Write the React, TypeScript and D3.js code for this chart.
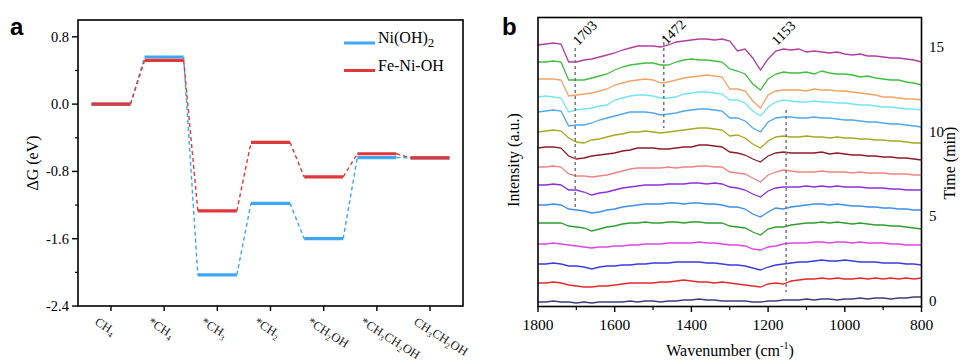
import React from "react";
import * as d3 from "d3";

// ---------- Panel a data ----------
const categories = ["CH4", "*CH4", "*CH3", "*CH2", "*CH2OH", "*CH3CH2OH", "CH3CH2OH"];
const niOH2 = [0, 0.56, -2.03, -1.18, -1.6, -0.635, -0.64];
const feNiOH = [0, 0.52, -1.27, -0.455, -0.865, -0.59, -0.64];
const yTicksA = [0.8, 0.0, -0.8, -1.6, -2.4];
const yMinorA = [0.4, -0.4, -1.2, -2.0];

// ---------- Panel b data ----------
const wavenumbers = d3.range(1800, 799, -20); // sampling grid, 1800 -> 800
const xTicksB = [1800, 1600, 1400, 1200, 1000, 800];
const xMinorB = [1700, 1500, 1300, 1100, 900];
const timeTicks = [0, 5, 10, 15];
const times = [0, 1, 2, 3, 4, 5, 6, 7, 8, 9, 10, 11, 12, 13, 14];
const baselines = [4.5, 23.5, 42.5, 62.5, 83.5, 101.5, 121.5, 139.5, 158.5, 174.5, 194.5, 209.5, 227.5, 244.5, 262.5];
const traceColors = [
  "#3d3d7d", "#e62a2a", "#3a3ae2", "#e044e6", "#2f9f2f", "#3d8fea", "#8c2fe0",
  "#f08482", "#8e1c2a", "#aaa81e", "#4fa8f0", "#6fe6f2", "#f2a264", "#3fbf3f", "#b23ea2",
];
const deviations: number[][] = [
  [0,0,1,0,0,-1,0,-1,0,0, 0,0,1,0,1,1,0,1,1,2, 2,3,2,2,1,1,1,1,0,0, 1,1,2,2,2,3,2,3,3,2, 3,3,4,3,4,4,3,4,4,5, 5],
  [0,0,1,0,-2,-3,-4,-4,-3,-3, -2,-1,0,0,0,0,1,1,2,3, 2,1,1,0,1,0,-1,-2,-3,-4, -1,0,-1,2,3,4,4,5,4,5, 4,4,5,4,5,4,5,4,5,4, 5],
  [0,0,1,0,-2,-2,-3,-5,-3,-2, -2,-1,-1,0,0,1,1,1,2,2, 2,2,1,1,0,-1,-1,-2,-4,-6, -3,-1,0,1,2,2,3,4,3,3, 4,3,2,2,2,1,1,1,0,0, -1],
  [0,0,1,0,-1,-2,-3,-4,-3,-3, -2,-2,-1,-1,0,0,0,1,1,1, 1,2,1,1,0,-1,-1,-2,-5,-6, -3,-2,0,1,1,1,2,2,1,2, 2,1,2,1,1,1,0,0,-1,-1, -1],
  [0,0,0,0,-3,-4,-5,-8,-6,-4, -3,-1,0,0,1,0,0,1,1,0, 1,1,0,0,0,-3,-4,-5,-9,-12, -6,-4,-4,-2,-1,0,0,1,0,1, 0,-1,0,-1,-2,-2,-3,-3,-4,-5, -6],
  [0,0,1,0,-4,-5,-6,-8,-7,-5, -4,-2,-1,0,1,1,1,2,2,1, 2,2,1,1,0,-2,-2,-4,-9,-12, -7,-3,-4,-2,-1,0,1,1,0,1, 0,-1,-1,-2,-2,-3,-3,-4,-4,-5, -5],
  [0,0,1,0,-5,-5,-7,-10,-8,-7, -5,-3,-2,-1,0,0,0,1,1,1, 2,2,1,2,1,-2,-3,-5,-9,-12, -6,-3,-2,-2,-2,-1,-2,-1,-2,-1, -2,-2,-2,-3,-3,-3,-4,-4,-5,-5, -5],
  [0,0,1,0,-7,-9,-9,-10,-9,-8, -6,-4,-2,-1,-1,-1,-1,0,-1,0, 0,1,1,0,0,-5,-6,-7,-11,-15, -8,-5,-3,-4,-5,-5,-5,-4,-5,-5, -5,-6,-5,-6,-6,-6,-7,-7,-7,-8, -8],
  [0,1,1,0,-8,-11,-10,-8,-7,-6, -5,-3,-2,0,0,0,-1,-1,0,1, 1,3,3,2,1,-4,-5,-7,-11,-14, -8,-5,-4,-5,-5,-5,-5,-4,-6,-5, -6,-7,-7,-8,-8,-9,-9,-10,-10,-11, -12],
  [0,1,2,1,-6,-10,-11,-8,-7,-5, -3,-2,0,0,1,0,-1,0,1,2, 3,4,4,3,2,-4,-3,-6,-12,-16, -9,-5,-4,-5,-5,-4,-5,-5,-6,-5, -6,-6,-7,-7,-8,-8,-9,-9,-10,-11, -11],
  [0,1,2,1,-14,-13,-13,-11,-8,-6, -4,-2,0,0,0,-1,-3,-2,-1,1, 2,3,3,2,1,-6,-6,-9,-16,-20, -10,-6,-5,-5,-6,-6,-5,-6,-6,-7, -8,-8,-9,-10,-10,-11,-12,-12,-13,-14, -15],
  [0,1,0,-1,-15,-13,-12,-11,-9,-8, -3,-1,1,2,2,1,-1,-1,0,3, 4,5,5,4,3,-3,-3,-6,-14,-19, -10,-5,-3,-4,-5,-5,-4,-5,-5,-6, -6,-7,-8,-8,-9,-10,-10,-11,-12,-12, -13],
  [0,0,0,-1,-17,-16,-15,-14,-12,-10, -6,-4,-2,-1,0,-1,-4,-3,-1,1, 2,3,4,3,2,-10,-10,-12,-22,-29, -16,-12,-11,-11,-11,-12,-10,-11,-11,-12, -12,-13,-14,-15,-16,-18,-18,-19,-20,-20, -21],
  [0,0,1,0,-18,-18,-18,-16,-14,-12, -8,-5,-3,-2,-1,-1,-3,-3,0,2, 3,2,2,1,0,-7,-9,-12,-22,-28, -17,-12,-10,-11,-11,-10,-12,-9,-11,-12, -12,-13,-15,-14,-16,-17,-18,-18,-20,-21, -23],
  [-1,0,1,0,-18,-18,-16,-15,-13,-11, -9,-6,-4,-2,-2,-2,-3,-1,2,3, 4,5,5,4,5,3,-7,-5,-14,-26, -15,-7,-5,-6,-5,-8,-7,-8,-9,-8, -10,-11,-10,-12,-12,-13,-14,-14,-15,-16, -18],
];
const markerWavenumbers = [1703, 1472, 1153];
const markerSpans = [[258.5, 99.5], [270.5, 178.5], [196.5, 14.5]];

const serif = "'Liberation Serif', 'Times New Roman', serif";
const sans = "'Liberation Sans', Arial, sans-serif";

function SubText({ text, size, subSize, shift }: { text: string; size: number; subSize: number; shift: number }) {
  const parts = text.split(/(\d+)/).filter((p) => p.length > 0);
  let lastSub = false;
  return (
    <>
      {parts.map((p, i) => {
        const isSub = /^\d+$/.test(p);
        const dy = isSub ? shift : lastSub ? -shift : 0;
        lastSub = isSub;
        return (
          <tspan key={i} dy={dy} fontSize={isSub ? subSize : size}>
            {p}
          </tspan>
        );
      })}
    </>
  );
}

export default function App() {
  // ---------- Panel a ----------
  const ax = d3.scaleLinear().domain([-0.62, 6.62]).range([78, 463]);
  const ay = d3.scaleLinear().domain([-2.4, 1.0]).range([306, 20]);
  const hw = 19.5;
  const seriesA = [
    { name: "Ni(OH)2", values: niOH2, color: "#3ea6f2" },
    { name: "Fe-Ni-OH", values: feNiOH, color: "#e0373a" },
  ];

  // ---------- Panel b ----------
  const bx = d3.scaleLinear().domain([1800, 800]).range([538, 921.5]);
  const by = d3.scaleLinear().domain([0, 289]).range([306.5, 17.5]);
  const bt = d3.scaleLinear().domain([0, 15]).range([300.5, 47]);
  const line = d3
    .line<[number, number]>()
    .x((d) => bx(d[0]))
    .y((d) => by(d[1]));

  return (
    <svg width={963} height={362} style={{ position: "absolute", left: 0, top: 0, background: "#fff" }}>
      <rect x={0} y={0} width={963} height={362} fill="#fff" />
      {/* ===== Panel a ===== */}
      <text x={10} y={35} fontFamily={sans} fontWeight="bold" fontSize={24}>a</text>
      {seriesA.map((s) =>
        s.values.slice(0, -1).map((v, i) => (
          <line
            key={s.name + "c" + i}
            x1={ax(i) + hw}
            y1={ay(v)}
            x2={ax(i + 1) - hw}
            y2={ay(s.values[i + 1])}
            stroke={s.color}
            strokeWidth={1.4}
            strokeDasharray="4,3"
          />
        ))
      )}
      {seriesA.map((s) =>
        s.values.map((v, i) => (
          <line key={s.name + "l" + i} x1={ax(i) - hw} x2={ax(i) + hw} y1={ay(v)} y2={ay(v)} stroke={s.color} strokeWidth={3.2} />
        ))
      )}
      <rect x={78} y={20} width={385} height={286} fill="none" stroke="#000" strokeWidth={1.6} />
      {yTicksA.map((t) => (
        <g key={"ya" + t}>
          <line x1={72} x2={78} y1={ay(t)} y2={ay(t)} stroke="#000" strokeWidth={1.4} />
          <text x={69} y={ay(t)} dy="0.35em" textAnchor="end" fontFamily={serif} fontSize={14.5}>
            {t.toFixed(1)}
          </text>
        </g>
      ))}
      {yMinorA.map((t) => (
        <line key={"yma" + t} x1={75} x2={78} y1={ay(t)} y2={ay(t)} stroke="#000" strokeWidth={1.2} />
      ))}
      <text transform="translate(38,163) rotate(-90)" textAnchor="middle" fontFamily={serif} fontSize={16}>
        ΔG (eV)
      </text>
      {categories.map((c, i) => (
        <g key={"xa" + c}>
          <line x1={ax(i)} x2={ax(i)} y1={306} y2={311} stroke="#000" strokeWidth={1.4} />
          <text transform={`translate(${ax(i) - 17},324) rotate(32)`} fontFamily={serif} fontSize={12.5} fill="#222">
            <SubText text={c} size={12.5} subSize={8} shift={3} />
          </text>
        </g>
      ))}
      {seriesA.map((s, i) => (
        <g key={"lg" + s.name}>
          <line x1={344} x2={375} y1={43 + i * 27.5} y2={43 + i * 27.5} stroke={s.color} strokeWidth={3} />
          <text x={378} y={43 + i * 27.5} dy="0.35em" fontFamily={serif} fontSize={16}>
            <SubText text={s.name} size={16} subSize={13} shift={4} />
          </text>
        </g>
      ))}

      {/* ===== Panel b ===== */}
      <text x={502} y={35} fontFamily={sans} fontWeight="bold" fontSize={24}>b</text>
      {times.map((t, i) => (
        <path
          key={"tr" + t}
          d={line(wavenumbers.map((w, j) => [w, baselines[i] + deviations[i][j]] as [number, number])) || ""}
          fill="none"
          stroke={traceColors[i]}
          strokeWidth={1.3}
        />
      ))}
      {markerWavenumbers.map((w, i) => (
        <line
          key={"mk" + w}
          x1={bx(w)}
          x2={bx(w)}
          y1={by(markerSpans[i][0])}
          y2={by(markerSpans[i][1])}
          stroke="#777"
          strokeWidth={1.5}
          strokeDasharray="3,3"
        />
      ))}
      <text transform={`translate(${bx(1703) + 3},46) rotate(-45)`} fontFamily={serif} fontSize={14}>1703</text>
      <text transform={`translate(${bx(1472) + 3},45) rotate(-45)`} fontFamily={serif} fontSize={14}>1472</text>
      <text transform={`translate(${bx(1153) - 9},46) rotate(-45)`} fontFamily={serif} fontSize={14}>1153</text>
      <rect x={538} y={17.5} width={383.5} height={289} fill="none" stroke="#000" strokeWidth={1.6} />
      {xTicksB.map((t) => (
        <g key={"xb" + t}>
          <line x1={bx(t)} x2={bx(t)} y1={306.5} y2={312} stroke="#000" strokeWidth={1.4} />
          <text x={bx(t)} y={330} textAnchor="middle" fontFamily={serif} fontSize={15.5}>
            {t}
          </text>
        </g>
      ))}
      {xMinorB.map((t) => (
        <line key={"xmb" + t} x1={bx(t)} x2={bx(t)} y1={306.5} y2={310} stroke="#000" strokeWidth={1.2} />
      ))}
      <text x={730} y={356} textAnchor="middle" fontFamily={serif} fontSize={16}>
        <tspan>Wavenumber (cm</tspan>
        <tspan dy={-7} fontSize={10}>-1</tspan>
        <tspan dy={7}>)</tspan>
      </text>
      <text transform="translate(519,160) rotate(-90)" textAnchor="middle" fontFamily={serif} fontSize={16}>
        Intensity (a.u.)
      </text>
      {timeTicks.map((t) => (
        <text key={"tt" + t} x={929} y={bt(t)} dy="0.35em" fontFamily={serif} fontSize={15}>
          {t}
        </text>
      ))}
      <text transform="translate(955,163) rotate(-90)" textAnchor="middle" fontFamily={serif} fontSize={16}>
        Time (min)
      </text>
    </svg>
  );
}
